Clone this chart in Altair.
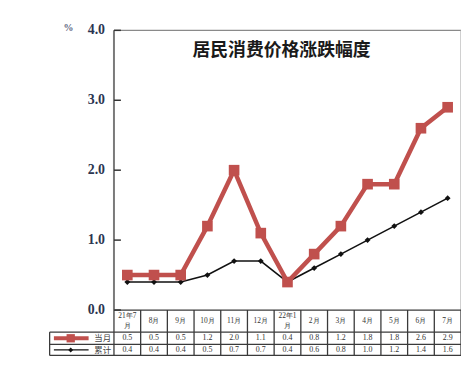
import altair as alt
import pandas as pd

# ---- data ----
months = ["21年7\n月", "8月", "9月", "10月", "11月", "12月", "22年1\n月",
          "2月", "3月", "4月", "5月", "6月", "7月"]
monthly = [0.5, 0.5, 0.5, 1.2, 2.0, 1.1, 0.4, 0.8, 1.2, 1.8, 1.8, 2.6, 2.9]
cumulative = [0.4, 0.4, 0.4, 0.5, 0.7, 0.7, 0.4, 0.6, 0.8, 1.0, 1.2, 1.4, 1.6]
series_names = ["当月", "累计"]
y_ticks = [0, 1, 2, 3, 4]
chart_title = "居民消费价格涨跌幅度"
unit_label = "%"

# ---- layout constants (scale units) ----
N = len(months)
LEG_LEFT = -2.41
ROWS = [0.0, -0.316, -0.492, -0.65]
RED = "#c0504d"
LINE = "#3a3a3a"

xs = alt.Scale(domain=[LEG_LEFT, N], nice=False, zero=False)
ys = alt.Scale(domain=[ROWS[-1], 4], nice=False, zero=False)


def X(f="x"):
    return alt.X(f"{f}:Q", scale=xs, axis=None)


def Y(f="y"):
    return alt.Y(f"{f}:Q", scale=ys, axis=None)


pos = [i + 0.5 for i in range(N)]
df_m = pd.DataFrame({"x": pos, "y": monthly})
df_c = pd.DataFrame({"x": pos, "y": cumulative})

red_line = alt.Chart(df_m).mark_line(color=RED, strokeWidth=4.5).encode(x=X(), y=Y())
red_pts = alt.Chart(df_m).mark_point(shape="square", filled=True, color=RED, size=115, opacity=1).encode(x=X(), y=Y())
blk_line = alt.Chart(df_c).mark_line(color="#111111", strokeWidth=1.6).encode(x=X(), y=Y())
blk_pts = alt.Chart(df_c).mark_point(shape="diamond", filled=True, color="#111111", size=35, opacity=1).encode(x=X(), y=Y())

# frame
frame_left = alt.Chart(pd.DataFrame({"x": [0], "y": [0], "y2": [4]})).mark_rule(color="#7a7a7a", strokeWidth=2).encode(x=X(), y=Y(), y2="y2:Q")
frame_top = alt.Chart(pd.DataFrame({"x": [0], "x2": [N], "y": [4]})).mark_rule(color="#8a8a8a", strokeWidth=1.2).encode(x=X(), x2="x2:Q", y=Y())
frame_right = alt.Chart(pd.DataFrame({"x": [N], "y": [0], "y2": [4]})).mark_rule(color="#b0b0b0", strokeWidth=1.2).encode(x=X(), y=Y(), y2="y2:Q")

df_ticks = pd.DataFrame({"y": y_ticks, "x": [0] * len(y_ticks), "x2": [0.26] * len(y_ticks),
                         "lab": [f"{v:.1f}" for v in y_ticks]})
ticks = alt.Chart(df_ticks).mark_rule(color="#333333", strokeWidth=1.5).encode(x=X(), x2="x2:Q", y=Y())
tick_labels = alt.Chart(df_ticks).mark_text(align="right", baseline="middle", dx=-9, font="Liberation Serif",
                                            fontWeight="bold", fontSize=14, color="#2b3550").encode(x=X(), y=Y(), text="lab:N")
unit = alt.Chart(pd.DataFrame({"x": [0], "y": [4], "t": [unit_label]})).mark_text(
    align="center", baseline="middle", dx=-46, dy=-2, font="Liberation Serif", fontWeight="bold",
    fontSize=10, color="#5a6580").encode(x=X(), y=Y(), text="t:N")
title = alt.Chart(pd.DataFrame({"x": [N / 2], "y": [3.7], "t": [chart_title]})).mark_text(
    align="center", baseline="middle", dx=-6, font="Noto Sans CJK SC", fontWeight="bold",
    fontSize=18, color="#1a1a1a").encode(x=X(), y=Y(), text="t:N")

# table lines
h_rules = pd.DataFrame({"x": [0, LEG_LEFT, LEG_LEFT, LEG_LEFT],
                        "x2": [N, N, N, N],
                        "y": ROWS})
table_h = alt.Chart(h_rules).mark_rule(color=LINE, strokeWidth=1.3).encode(x=X(), x2="x2:Q", y=Y())
v_rules = pd.DataFrame({"x": list(range(N + 1)) + [LEG_LEFT],
                        "y": [ROWS[0]] * (N + 1) + [ROWS[1]],
                        "y2": [ROWS[-1]] * (N + 2)})
table_v = alt.Chart(v_rules).mark_rule(color=LINE, strokeWidth=1.3).encode(x=X(), y=Y(), y2="y2:Q")

hdr_y = (ROWS[0] + ROWS[1]) / 2
r1_y = (ROWS[1] + ROWS[2]) / 2
r2_y = (ROWS[2] + ROWS[3]) / 2
df_hdr = pd.DataFrame({"x": pos, "y": [hdr_y] * N, "t": months})
df_hdr["multi"] = df_hdr["t"].str.contains("\n")
hdr_single = alt.Chart(df_hdr[~df_hdr["multi"]]).mark_text(
    fontSize=7.5, font="Liberation Serif", color="#333333", baseline="middle").encode(x=X(), y=Y(), text="t:N")
hdr_multi = alt.Chart(df_hdr[df_hdr["multi"]]).mark_text(
    lineBreak="\n", fontSize=7.5, lineHeight=9.5, dy=-5, font="Liberation Serif",
    color="#333333", baseline="middle").encode(x=X(), y=Y(), text="t:N")
df_vals = pd.DataFrame({"x": pos + pos, "y": [r1_y] * N + [r2_y] * N,
                        "t": [f"{v:.1f}" for v in monthly] + [f"{v:.1f}" for v in cumulative]})
vals = alt.Chart(df_vals).mark_text(fontSize=8, font="Liberation Serif", color="#333333",
                                    baseline="middle").encode(x=X(), y=Y(), text="t:N")

# legend column
leg_x1, leg_x2, leg_mid, leg_lab = -2.25, -0.95, -1.62, -0.42
df_leg = pd.DataFrame({"x": [leg_x1, leg_x1], "x2": [leg_x2, leg_x2], "y": [r1_y, r2_y],
                       "m": [leg_mid, leg_mid], "lx": [leg_lab, leg_lab], "t": series_names})
leg_red = alt.Chart(df_leg.iloc[[0]]).mark_rule(color=RED, strokeWidth=4).encode(x=X(), x2="x2:Q", y=Y())
leg_red_pt = alt.Chart(df_leg.iloc[[0]]).mark_point(shape="square", filled=True, color=RED, size=70, opacity=1).encode(x=X("m"), y=Y())
leg_blk = alt.Chart(df_leg.iloc[[1]]).mark_rule(color="#111111", strokeWidth=1.3).encode(x=X(), x2="x2:Q", y=Y())
leg_blk_pt = alt.Chart(df_leg.iloc[[1]]).mark_point(shape="diamond", filled=True, color="#111111", size=25, opacity=1).encode(x=X("m"), y=Y())
leg_txt = alt.Chart(df_leg).mark_text(fontSize=8.5, font="Noto Sans CJK SC", color="#444444",
                                      baseline="middle").encode(x=X("lx"), y=Y(), text="t:N")

chart = alt.layer(
    frame_top, frame_right, table_h, table_v, frame_left, ticks, tick_labels, unit, title,
    hdr_single, hdr_multi, vals, leg_red, leg_red_pt, leg_blk, leg_blk_pt, leg_txt,
    blk_line, blk_pts, red_line, red_pts,
).properties(
    width=415, height=328,
    autosize=alt.AutoSizeParams(type="none"),
    padding={"left": 42, "top": 21, "right": 0, "bottom": 0},
).configure_view(stroke=None)

chart.save("out.html", embed_options={"renderer": "svg", "actions": False})
